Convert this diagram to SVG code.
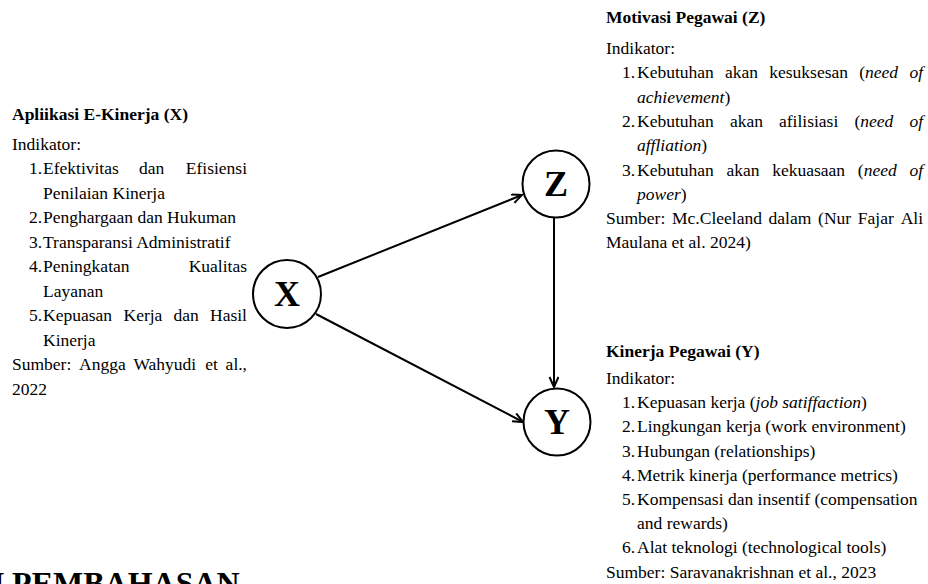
<svg xmlns="http://www.w3.org/2000/svg" width="928" height="584" viewBox="0 0 928 584">
<defs>
<style>
text { font-family: "Liberation Serif", "Times New Roman", serif; font-size: 17.5px; fill: #000; }
.b { font-weight: bold; }
.i { font-style: italic; }
.n { text-anchor: end; }
.e { text-anchor: end; }
.lbl { font-size: 36px; font-weight: bold; text-anchor: middle; }
.head { font-size: 32px; font-weight: bold; }
.node circle { fill: #fff; stroke: #000; stroke-width: 2; }
.edge { stroke: #000; stroke-width: 2; fill: none; marker-end: url(#arr); }
</style>
<marker id="arr" markerUnits="userSpaceOnUse" markerWidth="14" markerHeight="12" refX="11" refY="5" orient="auto">
<path d="M1,0.5 L11,5 L1,9.5" fill="none" stroke="#000" stroke-width="2"/>
</marker>
</defs>
<rect width="928" height="584" fill="#fff"/>

<g id="connectors">
<line class="edge" x1="318" y1="277" x2="522" y2="195"/>
<line class="edge" x1="316" y1="314" x2="523" y2="422"/>
<line class="edge" x1="554" y1="217" x2="554" y2="387"/>
</g>

<g id="node-x" class="node">
<circle cx="287" cy="294" r="34"/>
<text class="lbl" x="287" y="306">X</text>
</g>
<g id="node-z" class="node">
<circle cx="556" cy="184" r="33.5"/>
<text class="lbl" x="556" y="196">Z</text>
</g>
<g id="node-y" class="node">
<circle cx="557" cy="422" r="33.5"/>
<text class="lbl" x="557" y="434">Y</text>
</g>

<g id="block-x">
<text class="b" x="12" y="120">Apliikasi E-Kinerja (X)</text>
<text x="12" y="149.5">Indikator:</text>
<text class="n" x="42" y="174">1.</text>
<text y="174"><tspan x="43">Efektivitas</tspan><tspan x="139">dan</tspan><tspan x="247" class="e">Efisiensi</tspan></text>
<text x="43" y="198.5">Penilaian Kinerja</text>
<text class="n" x="42" y="223">2.</text>
<text x="43" y="223">Penghargaan dan Hukuman</text>
<text class="n" x="42" y="247.5">3.</text>
<text x="43" y="247.5">Transparansi Administratif</text>
<text class="n" x="42" y="272">4.</text>
<text y="272"><tspan x="43">Peningkatan</tspan><tspan x="247" class="e">Kualitas</tspan></text>
<text x="43" y="296.5">Layanan</text>
<text class="n" x="42" y="321">5.</text>
<text y="321"><tspan x="43">Kepuasan</tspan><tspan x="123.5">Kerja</tspan><tspan x="173.5">dan</tspan><tspan x="247" class="e">Hasil</tspan></text>
<text x="43" y="345.5">Kinerja</text>
<text y="370"><tspan x="12">Sumber:</tspan><tspan x="79">Angga</tspan><tspan x="133.4">Wahyudi</tspan><tspan x="205.3">et</tspan><tspan x="247" class="e">al.,</tspan></text>
<text x="12" y="394.5">2022</text>
</g>

<g id="block-z">
<text class="b" x="606" y="23">Motivasi Pegawai (Z)</text>
<text x="606" y="54">Indikator:</text>
<text class="n" x="635" y="78.3">1.</text>
<text y="78.3"><tspan x="637">Kebutuhan</tspan><tspan x="725">akan</tspan><tspan x="769.3">kesuksesan</tspan><tspan x="859.2">(<tspan class="i">need</tspan></tspan><tspan x="923" class="e i">of</tspan></text>
<text x="637" y="102.6"><tspan class="i">achievement</tspan>)</text>
<text class="n" x="635" y="126.9">2.</text>
<text y="126.9"><tspan x="637">Kebutuhan</tspan><tspan x="729.9">akan</tspan><tspan x="779">afilisiasi</tspan><tspan x="854.4">(<tspan class="i">need</tspan></tspan><tspan x="923" class="e i">of</tspan></text>
<text x="637" y="151.2"><tspan class="i">affliation</tspan>)</text>
<text class="n" x="635" y="175.5">3.</text>
<text y="175.5"><tspan x="637">Kebutuhan</tspan><tspan x="726.5">akan</tspan><tspan x="772.2">kekuasaan</tspan><tspan x="857.8">(<tspan class="i">need</tspan></tspan><tspan x="923" class="e i">of</tspan></text>
<text x="637" y="199.8"><tspan class="i">power</tspan>)</text>
<text y="224.1"><tspan x="606">Sumber:</tspan><tspan x="672">Mc.Cleeland</tspan><tspan x="768.6">dalam</tspan><tspan x="818.1">(Nur</tspan><tspan x="857.8">Fajar</tspan><tspan x="923" class="e">Ali</tspan></text>
<text x="606" y="248.4">Maulana et al. 2024)</text>
</g>

<g id="block-y">
<text class="b" x="606" y="357">Kinerja Pegawai (Y)</text>
<text x="606" y="384">Indikator:</text>
<text class="n" x="635" y="408.2">1.</text>
<text x="637" y="408.2">Kepuasan kerja (<tspan class="i">job satiffaction</tspan>)</text>
<text class="n" x="635" y="432.4">2.</text>
<text x="637" y="432.4">Lingkungan kerja (work environment)</text>
<text class="n" x="635" y="456.6">3.</text>
<text x="637" y="456.6">Hubungan (relationships)</text>
<text class="n" x="635" y="480.8">4.</text>
<text x="637" y="480.8">Metrik kinerja (performance metrics)</text>
<text class="n" x="635" y="505">5.</text>
<text x="637" y="505">Kompensasi dan insentif (compensation</text>
<text x="637" y="529.2">and rewards)</text>
<text class="n" x="635" y="553.4">6.</text>
<text x="637" y="553.4">Alat teknologi (technological tools)</text>
<text x="606" y="577.6">Sumber: Saravanakrishnan et al., 2023</text>
</g>

<text class="head" x="-19" y="594">N PEMBAHASAN</text>
</svg>
